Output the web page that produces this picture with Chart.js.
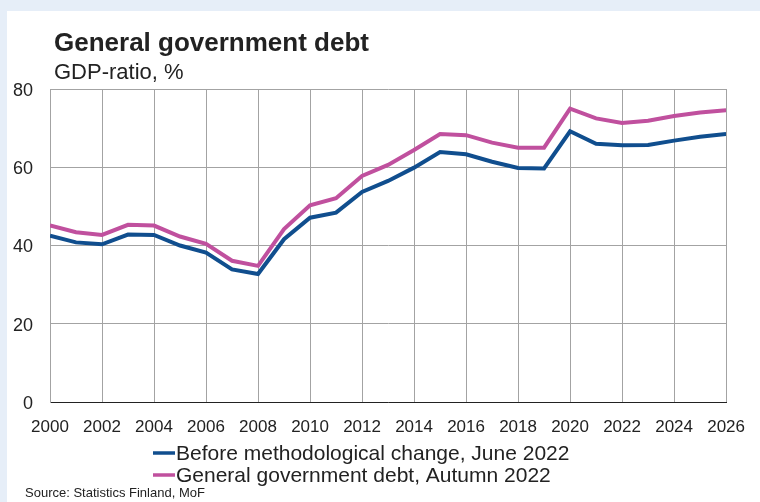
<!DOCTYPE html>
<html>
<head>
<meta charset="utf-8">
<script src="https://cdn.jsdelivr.net/npm/chart.js@4/dist/chart.umd.min.js"></script>
<style>
  body { margin: 0; background: #e6eef8; }
  #panel { position: absolute; left: 7px; top: 11px; width: 753px; height: 491px; background: #fff; }
  #chart { position: absolute; left: 0; top: 0; }
</style>
</head>
<body>
<div id="panel"></div>
<canvas id="chart" width="760" height="502"></canvas>
<script>
const years = [2000, 2001, 2002, 2003, 2004, 2005, 2006, 2007, 2008, 2009, 2010, 2011, 2012, 2013,
               2014, 2015, 2016, 2017, 2018, 2019, 2020, 2021, 2022, 2023, 2024, 2025, 2026];
const before_change = [42.5, 40.8, 40.3, 42.8, 42.7, 40.0, 38.2, 33.9, 32.7, 41.6, 47.1, 48.4, 53.7, 56.5,
                       59.9, 63.9, 63.3, 61.4, 59.8, 59.7, 69.2, 66.0, 65.6, 65.7, 66.8, 67.8, 68.5];
const autumn_2022 = [45.1, 43.4, 42.7, 45.3, 45.1, 42.3, 40.4, 36.1, 34.8, 44.2, 50.3, 52.1, 57.8, 60.6,
                     64.4, 68.5, 68.2, 66.3, 65.0, 65.0, 75.0, 72.5, 71.3, 71.9, 73.1, 74.0, 74.6];
const series_labels = ["Before methodological change, June 2022", "General government debt, Autumn 2022"];
const series_colors = ["#104e8e", "#c0509e"];

const title_text = "General government debt";
const subtitle_text = "GDP-ratio, %";
const source_text = "Source: Statistics Finland, MoF";

const FONT = "'Liberation Sans', Arial, sans-serif";
const GRID = "#a3a3a3";

const to_points = (vals) => vals.map((v, i) => ({ x: years[i], y: v }));

// titles, legend and source drawn on the canvas
const extras = {
    id: "extras",
    afterDraw(chart) {
        const ctx = chart.ctx;
        ctx.save();
        ctx.fillStyle = "#222";
        ctx.textAlign = "left";
        ctx.textBaseline = "alphabetic";
        ctx.font = "bold 26px " + FONT;
        ctx.fillText(title_text, 54, 51);
        ctx.font = "22px " + FONT;
        ctx.fillText(subtitle_text, 54, 79);

        // legend, stacked and left aligned
        chart.data.datasets.forEach((ds, i) => {
            const y = 453 + i * 22;
            ctx.strokeStyle = ds.borderColor;
            ctx.lineWidth = 3.5;
            ctx.beginPath();
            ctx.moveTo(153, y);
            ctx.lineTo(175, y);
            ctx.stroke();
            ctx.fillStyle = "#222";
            ctx.font = "21px " + FONT;
            ctx.textBaseline = "middle";
            ctx.fillText(ds.label, 176, y + 1);
        });

        ctx.textBaseline = "alphabetic";
        ctx.font = "13px " + FONT;
        ctx.fillText(source_text, 25, 497);
        ctx.restore();
    },
};

const ctx = document.getElementById("chart").getContext("2d");
const chart = new Chart(ctx, {
    type: "line",
    data: {
        datasets: [
            {
                label: series_labels[0],
                data: to_points(before_change),
                borderColor: series_colors[0],
                backgroundColor: series_colors[0],
                borderWidth: 4,
                pointRadius: 0,
                tension: 0,
            },
            {
                label: series_labels[1],
                data: to_points(autumn_2022),
                borderColor: series_colors[1],
                backgroundColor: series_colors[1],
                borderWidth: 4,
                pointRadius: 0,
                tension: 0,
            },
        ],
    },
    options: {
        responsive: false,
        animation: false,
        layout: { padding: { left: 0, top: 89, right: 30, bottom: 0 } },
        plugins: {
            legend: { display: false },
            tooltip: { enabled: false },
        },
        scales: {
            x: {
                type: "linear",
                min: 2000,
                max: 2026,
                afterFit: (scale) => { scale.height = 100; },
                ticks: {
                    stepSize: 2,
                    padding: 15,
                    color: "#222",
                    font: { family: FONT, size: 17 },
                    maxRotation: 0,
                    callback: (v) => String(v),
                },
                grid: { color: GRID, drawTicks: false },
                border: { color: "#222", width: 1 },
            },
            y: {
                min: 0,
                max: 80,
                afterFit: (scale) => { scale.width = 50; },
                ticks: {
                    stepSize: 20,
                    padding: 17,
                    labelOffset: 2,
                    color: "#222",
                    font: { family: FONT, size: 18 },
                },
                grid: { color: GRID, drawTicks: false },
                border: { color: GRID },
            },
        },
    },
    plugins: [extras],
});
</script>
</body>
</html>
